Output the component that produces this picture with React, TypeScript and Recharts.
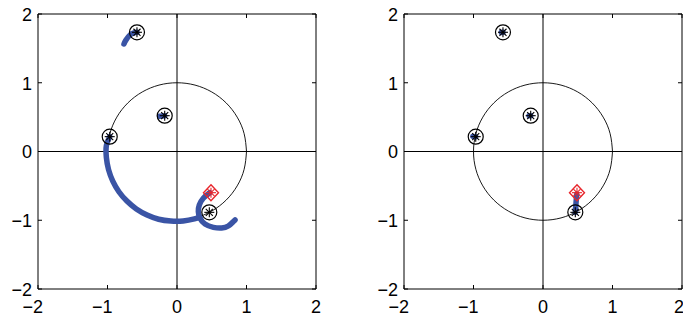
import { ComposedChart, Scatter, XAxis, YAxis, ReferenceLine } from "recharts";

const TICKS = [-2, -1, 0, 1, 2];

// unit circle, 15 degree steps
const UNIT_CIRCLE = [
  { x: 1, y: 0 }, { x: 0.966, y: 0.259 }, { x: 0.866, y: 0.5 }, { x: 0.707, y: 0.707 },
  { x: 0.5, y: 0.866 }, { x: 0.259, y: 0.966 }, { x: 0, y: 1 }, { x: -0.259, y: 0.966 },
  { x: -0.5, y: 0.866 }, { x: -0.707, y: 0.707 }, { x: -0.866, y: 0.5 }, { x: -0.966, y: 0.259 },
  { x: -1, y: 0 }, { x: -0.966, y: -0.259 }, { x: -0.866, y: -0.5 }, { x: -0.707, y: -0.707 },
  { x: -0.5, y: -0.866 }, { x: -0.259, y: -0.966 }, { x: 0, y: -1 }, { x: 0.259, y: -0.966 },
  { x: 0.5, y: -0.866 }, { x: 0.707, y: -0.707 }, { x: 0.866, y: -0.5 }, { x: 0.966, y: -0.259 },
  { x: 1, y: 0 },
];

const ROOTS = [
  { x: -0.576, y: 1.734 },
  { x: -0.177, y: 0.521 },
  { x: -0.968, y: 0.216 },
  { x: 0.465, y: -0.885 },
];

const TARGET = [{ x: 0.489, y: -0.599 }];

// left panel trajectories
const LEFT_TOP = [
  { x: -0.576, y: 1.734 }, { x: -0.62, y: 1.725 }, { x: -0.676, y: 1.695 },
  { x: -0.734, y: 1.622 }, { x: -0.763, y: 1.564 },
];
const LEFT_INNER = [{ x: -0.177, y: 0.521 }, { x: -0.25, y: 0.512 }];
const LEFT_ARC = [
  { x: -0.968, y: 0.216 }, { x: -1.016, y: 0.089 }, { x: -1.016, y: -0.089 },
  { x: -0.985, y: -0.264 }, { x: -0.924, y: -0.431 }, { x: -0.836, y: -0.585 },
  { x: -0.721, y: -0.721 }, { x: -0.585, y: -0.836 }, { x: -0.431, y: -0.924 },
  { x: -0.264, y: -0.985 }, { x: -0.089, y: -1.012 }, { x: 0.089, y: -1.01 },
  { x: 0.25, y: -0.98 }, { x: 0.33, y: -0.955 },
];
const LEFT_LOOP = [
  { x: 0.47, y: -0.6 }, { x: 0.378, y: -0.68 }, { x: 0.321, y: -0.778 },
  { x: 0.307, y: -0.876 }, { x: 0.331, y: -0.972 }, { x: 0.403, y: -1.055 },
  { x: 0.523, y: -1.103 }, { x: 0.643, y: -1.113 }, { x: 0.738, y: -1.084 },
  { x: 0.81, y: -1.021 }, { x: 0.835, y: -0.996 },
];

// right panel trajectories
const RIGHT_MAIN = [{ x: 0.465, y: -0.885 }, { x: 0.475, y: -0.75 }, { x: 0.485, y: -0.62 }];
const RIGHT_STUB_A = [{ x: -0.576, y: 1.734 }, { x: -0.6, y: 1.73 }];
const RIGHT_STUB_B = [{ x: -0.177, y: 0.521 }, { x: -0.2, y: 0.52 }];
const RIGHT_STUB_C = [{ x: -0.968, y: 0.216 }, { x: -1.01, y: 0.22 }];

const LEFT_TRACKS = [LEFT_TOP, LEFT_INNER, LEFT_ARC, LEFT_LOOP];
const RIGHT_TRACKS = [RIGHT_MAIN, RIGHT_STUB_A, RIGHT_STUB_B, RIGHT_STUB_C];

const BLUE = "#3a54a5";
const RED = "#e8262c";
const FONT = "'Liberation Sans', Arial, Helvetica, sans-serif";

const fmt = (v: number) => (v < 0 ? "\u2212" + Math.abs(v) : String(v));

const Empty = () => <g />;

const XTick = ({ x, y, payload }: any) => (
  <text x={x + 5} y={y} dy="0.71em" textAnchor="end" fontSize={18} fontFamily={FONT} fill="#000">
    {fmt(payload.value)}
  </text>
);

const YTick = ({ x, y, payload }: any) => (
  <text x={x} y={y} dy="0.38em" textAnchor="end" fontSize={18} fontFamily={FONT} fill="#000">
    {fmt(payload.value)}
  </text>
);

const star = (cx: number, cy: number, r: number, color: string) =>
  [0, 45, 90, 135].map((a) => {
    const dx = r * Math.cos((a * Math.PI) / 180);
    const dy = r * Math.sin((a * Math.PI) / 180);
    return (
      <line key={a} x1={cx - dx} y1={cy - dy} x2={cx + dx} y2={cy + dy} stroke={color} strokeWidth={1.1} />
    );
  });

const RootMarker = ({ cx, cy }: any) => (
  <g>
    <circle cx={cx} cy={cy} r={7.5} fill="none" stroke="#000" strokeWidth={1.2} />
    {star(cx, cy, 5, "#000")}
  </g>
);

const TargetMarker = ({ cx, cy }: any) => (
  <g>
    <polygon
      points={`${cx},${cy - 8} ${cx + 7.5},${cy} ${cx},${cy + 8} ${cx - 7.5},${cy}`}
      fill="none"
      stroke={RED}
      strokeWidth={1.4}
    />
    {star(cx, cy, 5, RED)}
  </g>
);

function Panel({ width, left, right, tracks }: { width: number; left: number; right: number; tracks: { x: number; y: number }[][] }) {
  return (
    <ComposedChart width={width} height={316} margin={{ top: 13, right, bottom: 0, left }}>
      <XAxis
        dataKey="x"
        type="number"
        domain={[-2, 2]}
        ticks={TICKS}
        allowDataOverflow
        height={27}
        stroke="#000"
        tickSize={-4}
        tickMargin={15}
        tick={<XTick />}
      />
      <XAxis
        xAxisId="top"
        orientation="top"
        dataKey="x"
        type="number"
        domain={[-2, 2]}
        ticks={TICKS}
        allowDataOverflow
        height={1}
        stroke="#000"
        tickSize={-4}
        tick={Empty}
      />
      <YAxis
        dataKey="y"
        type="number"
        domain={[-2, 2]}
        ticks={TICKS}
        allowDataOverflow
        width={38}
        stroke="#000"
        tickSize={-4}
        tickMargin={10}
        tick={<YTick />}
      />
      <YAxis
        yAxisId="right"
        orientation="right"
        dataKey="y"
        type="number"
        domain={[-2, 2]}
        ticks={TICKS}
        allowDataOverflow
        width={1}
        stroke="#000"
        tickSize={-4}
        tick={Empty}
      />
      <ReferenceLine x={0} stroke="#000" strokeWidth={1} />
      <ReferenceLine y={0} stroke="#000" strokeWidth={1} />
      <Scatter
        data={UNIT_CIRCLE}
        line={{ stroke: "#000", strokeWidth: 0.9 }}
        lineJointType="natural"
        shape={Empty}
        isAnimationActive={false}
      />
      {tracks.map((t, i) => (
        <Scatter
          key={i}
          data={t}
          line={{ stroke: BLUE, strokeWidth: 5.5, strokeLinecap: "round" }}
          lineJointType="natural"
          shape={Empty}
          isAnimationActive={false}
        />
      ))}
      <Scatter data={ROOTS} shape={RootMarker} isAnimationActive={false} />
      <Scatter data={TARGET} shape={TargetMarker} isAnimationActive={false} />
    </ComposedChart>
  );
}

export default function App() {
  return (
    <div style={{ position: "absolute", left: 0, top: 0, width: 683, height: 316, display: "flex", background: "#fff" }}>
      <Panel width={341} left={0} right={24} tracks={LEFT_TRACKS} />
      <Panel width={342} left={25} right={0} tracks={RIGHT_TRACKS} />
    </div>
  );
}
